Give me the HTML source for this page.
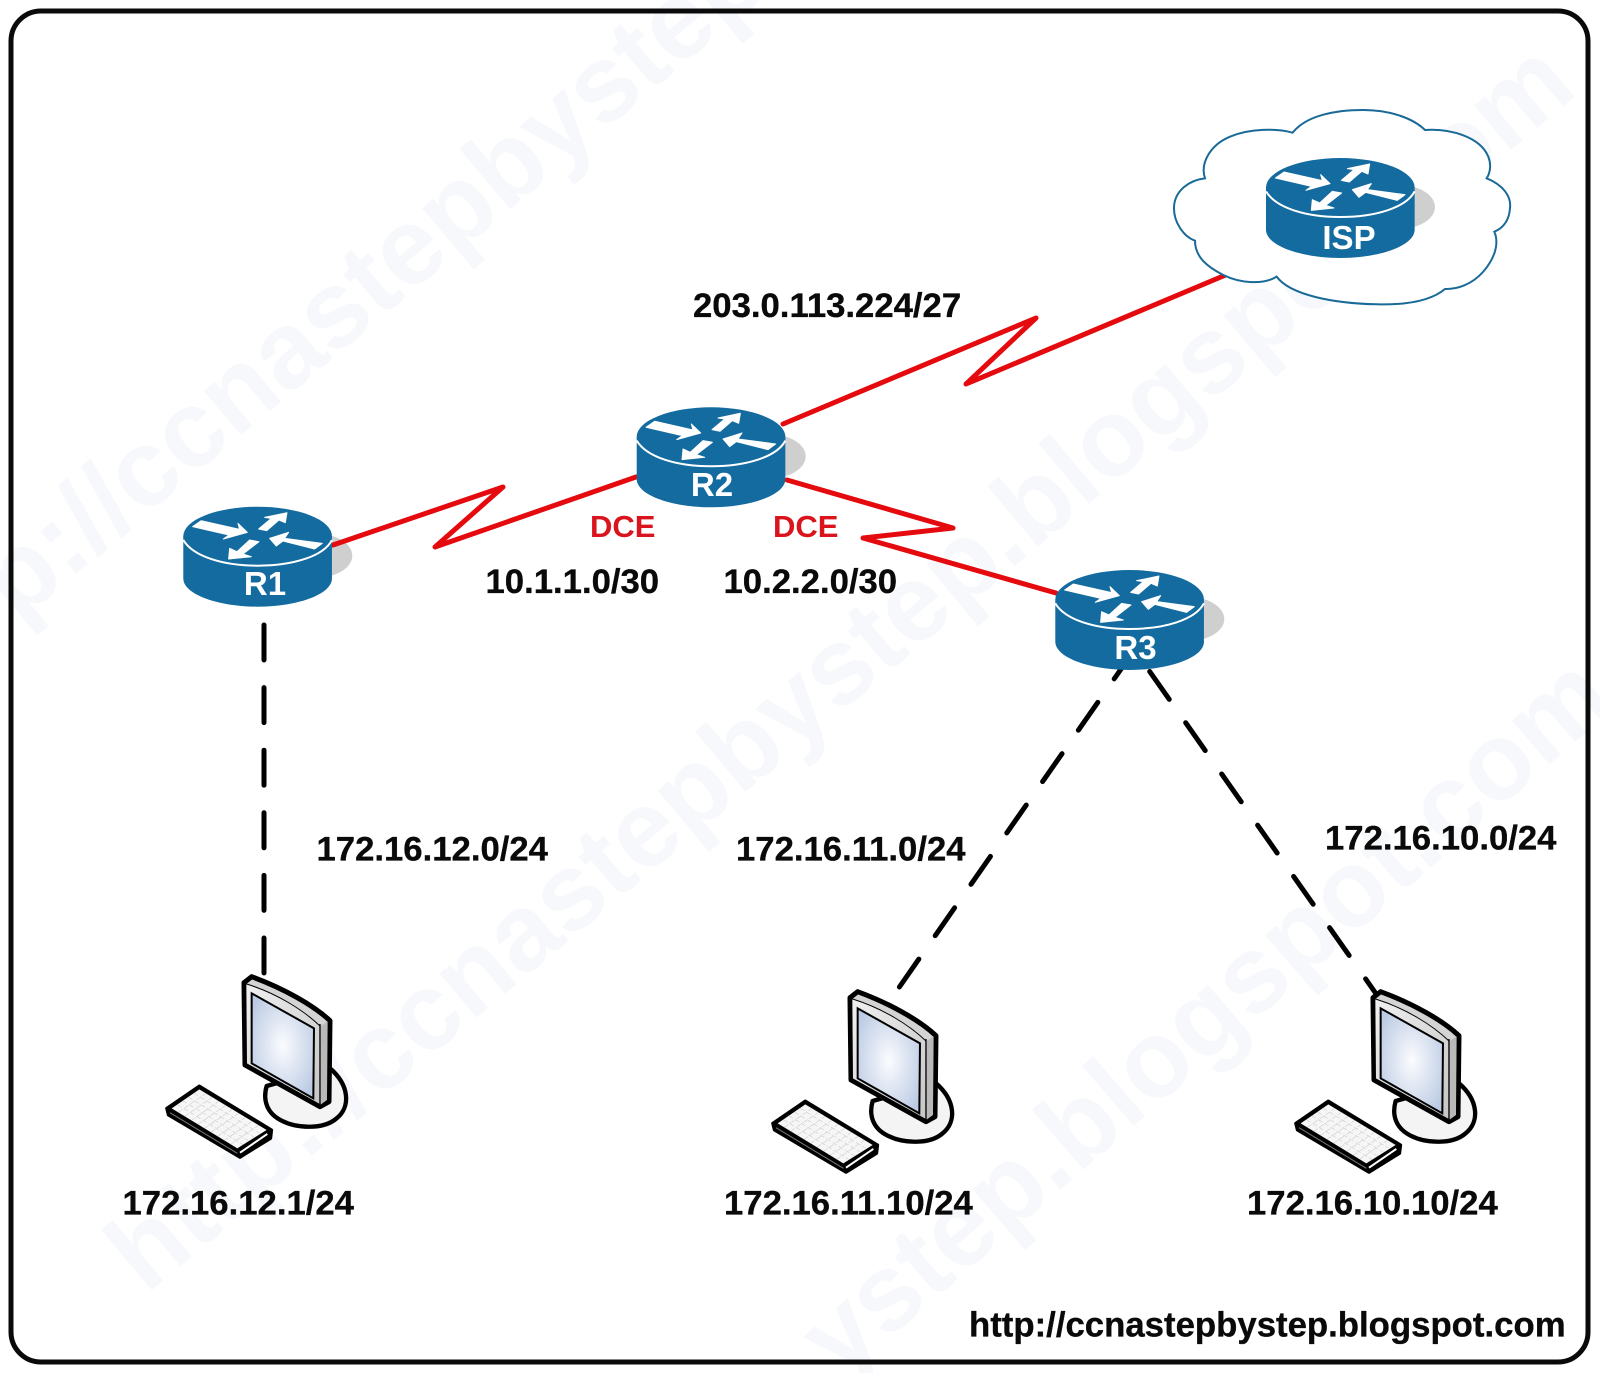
<!DOCTYPE html>
<html><head><meta charset="utf-8"><style>
html,body{margin:0;padding:0;background:#fff;width:1600px;height:1373px;overflow:hidden}
svg{display:block}
text{font-family:"Liberation Sans",sans-serif;font-weight:bold}
.l{font-size:34.7px;fill:#0a0a0a;stroke:#0a0a0a;stroke-width:.35}
.d{font-size:31px;fill:#d9141c}
.r{font-size:33px;fill:#fff}
.w{font-size:109px;fill:#f6f8fb}
</style></head><body>
<div style="width:1600px;height:1373px;overflow:hidden;position:relative">
<svg width="1600" height="1373" viewBox="0 0 1600 1373" xmlns="http://www.w3.org/2000/svg">
<defs>
<radialGradient id="scr" cx="50%" cy="50%" r="60%"><stop offset="0" stop-color="#fbfcfe"/><stop offset="1" stop-color="#bccbe4"/></radialGradient>
<linearGradient id="bez" x1="0" y1="0" x2="1" y2="1"><stop offset="0" stop-color="#f0f0f0"/><stop offset="1" stop-color="#c6c6c6"/></linearGradient>
<g id="shadow"><ellipse cx="469" cy="227" rx="108" ry="66" fill="#cfcfcf"/></g>
<g id="router">
<path d="M70,168 V295 C70,345 180,380 293,380 C406,380 516,345 516,295 V168 Z" fill="#146b9f"/>
<ellipse cx="293" cy="168.500" rx="223" ry="88.500" fill="#146b9f"/>
<path d="M70,180 C100,230 190,257 293,257 C396,257 490,230 516,180" fill="none" stroke="#fff" stroke-width="6"/>
<g fill="#fff" stroke="#fff" stroke-width="3" stroke-linejoin="round">
<polygon points="98,140 124,122 239,148 234,130 262,157 190,177 207,165"/>
<polygon points="381,98 376,128 357,120 320,152 296,147 334,115 314,112"/>
<polygon points="329,175 386,157 374,175 487,190 464,207 369,183 349,198"/>
<polygon points="206,237 209,205 231,215 269,180 297,185 249,222 274,230"/>
</g>
</g>
<g id="pc">
<path d="M350,378 C338,420 350,460 395,482 C440,505 520,510 560,475 C603,440 598,375 540,325 Z" fill="#f4f4f4" stroke="#000" stroke-width="13" stroke-linejoin="round"/>
<path d="M282,68 L305,50 C400,85 490,135 540,182 L537,425 L510,440 L285,315 Z" fill="#d4d4d4" stroke="#000" stroke-width="15" stroke-linejoin="round"/>
<path d="M512,198 L533,184 L531,420 L512,434 Z" fill="#b9b9b9"/>
<path d="M289,74 C380,102 460,150 510,198 L510,432 L291,310 Z" fill="url(#bez)"/>
<path d="M290,72 C380,100 460,150 510,198" fill="none" stroke="#000" stroke-width="3"/>
<path d="M510,192 L510,438" stroke="#000" stroke-width="4"/>
<polygon points="305,100 492,205 490,415 305,310" fill="url(#scr)" stroke="#000" stroke-width="6"/>
<polygon points="50,445 148,378 365,510 362,535 270,592 55,465" fill="#000" stroke="#000" stroke-width="9" stroke-linejoin="round"/>
<polygon points="65,445 148,388 350,510 262,565" fill="#f6f6f6"/>
<path d="M60,458 L262,580" stroke="#777" stroke-width="3"/>
<path d="M270,578 L352,522" stroke="#fff" stroke-width="6"/>
<path d="M82,434L279,554M98,422L295,542M115,411L312,531M131,399L328,519M85,457L168,400M104,469L187,412M124,481L207,424M144,493L227,436M164,505L247,448M183,517L266,460M203,529L286,472M223,541L306,484M242,553L325,496" fill="none" stroke="#cfcfcf" stroke-width="2" stroke-dasharray="15 7"/>
</g>
</defs>
<rect width="1600" height="1373" fill="#fff"/>
<text class="w" transform="translate(17,623) rotate(-40)">p://ccnastepbystep</text>
<text class="w" transform="translate(146,1295) rotate(-40)">http://ccnastepbystep.blogspot.com</text>
<text class="w" transform="translate(840,1381) rotate(-41)">ystep.blogspot.com</text>
<rect x="11" y="11" width="1577" height="1351" rx="30" ry="30" fill="none" stroke="#0a0a0a" stroke-width="5"/>

<use href="#shadow" transform="translate(183.3,506.7) scale(.3333) translate(-70,-80)"/>
<use href="#shadow" transform="translate(636.7,407.3) scale(.3333) translate(-70,-80)"/>
<use href="#shadow" transform="translate(1055.3,570) scale(.3333) translate(-70,-80)"/>

<g fill="none" stroke="#e40a0e" stroke-width="5" stroke-linejoin="round" stroke-linecap="round">
<polyline points="333,545 503,487 435,547 636,477"/>
<polyline points="783,424 1036,318 966,384 1228,274"/>
<polyline points="787,480 953,528 863,538 1056,593"/>
</g>
<g fill="none" stroke="#000" stroke-width="5" stroke-linecap="round">
<line x1="264" y1="625" x2="264" y2="975" stroke-dasharray="35 27.6"/>
<line x1="899.4" y1="987" x2="1135" y2="649" stroke-dasharray="34 28.6"/>
<line x1="1149.7" y1="671.500" x2="1375.500" y2="993" stroke-dasharray="34 28.6"/>
</g>

<path transform="translate(1150,90) scale(.3333)" d="M428,128 C470,75 560,60 640,60 C720,60 790,85 825,120 C900,115 990,140 1015,200 C1025,225 1020,250 1010,265 C1060,285 1085,320 1080,355 C1078,390 1060,415 1033,425 C1050,465 1030,510 1000,545 C965,585 920,598 885,597 C840,635 760,645 680,643 C550,640 420,615 380,560 C340,585 270,580 220,555 C170,530 135,500 135,452 C100,440 70,395 72,350 C75,300 120,270 165,265 C150,220 180,165 240,140 C300,115 380,115 428,128 Z" fill="#fff" stroke="#1a6a98" stroke-width="6"/>
<use href="#shadow" transform="translate(1266,158) scale(.3333) translate(-70,-80)"/>

<use href="#router" transform="translate(183.3,506.7) scale(.3333) translate(-70,-80)"/>
<use href="#router" transform="translate(636.7,407.3) scale(.3333) translate(-70,-80)"/>
<use href="#router" transform="translate(1055.3,570) scale(.3333) translate(-70,-80)"/>
<use href="#router" transform="translate(1266,158) scale(.3333) translate(-70,-80)"/>
<text class="r" x="265" y="595" text-anchor="middle">R1</text>
<text class="r" x="712" y="496" text-anchor="middle">R2</text>
<text class="r" x="1135.500" y="659" text-anchor="middle">R3</text>
<text class="r" x="1349" y="249" text-anchor="middle">ISP</text>

<use href="#pc" transform="translate(150,960) scale(.3333)"/>
<use href="#pc" transform="translate(756,975) scale(.3333)"/>
<use href="#pc" transform="translate(1279,975) scale(.3333)"/>

<text class="d" x="590" y="537">DCE</text>
<text class="d" x="773" y="537">DCE</text>
<text class="l" x="693" y="317">203.0.113.224/27</text>
<text class="l" x="485.500" y="593">10.1.1.0/30</text>
<text class="l" x="723.500" y="593">10.2.2.0/30</text>
<text class="l" x="316.500" y="860.500">172.16.12.0/24</text>
<text class="l" x="736" y="860.500">172.16.11.0/24</text>
<text class="l" x="1325" y="849.500">172.16.10.0/24</text>
<text class="l" x="122.500" y="1214.500">172.16.12.1/24</text>
<text class="l" x="724" y="1214.500">172.16.11.10/24</text>
<text class="l" x="1247" y="1214.500">172.16.10.10/24</text>
<text class="l" style="font-size:34.75px" x="969" y="1336.500">http://ccnastepbystep.blogspot.com</text>
</svg>
</div>
</body></html>
